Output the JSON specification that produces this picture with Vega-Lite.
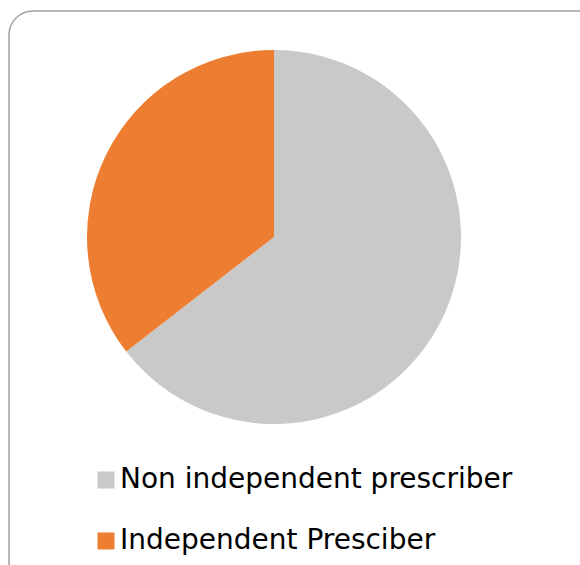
{
  "$schema": "https://vega.github.io/schema/vega-lite/v6.json",
  "autosize": {"type": "none"},
  "padding": {"left": 9, "top": 11, "right": -30, "bottom": -46},
  "width": 601,
  "height": 600,
  "background": "white",
  "config": {
    "style": {"view": {"stroke": "#a0a0a0", "strokeWidth": 1.5, "cornerRadius": 24, "fill": "white"}},
    "view": {"stroke": "#a0a0a0", "strokeWidth": 1.5, "cornerRadius": 24},
    "font": "DejaVu Sans"
  },
  "data": {
    "values": [
      {"category": "Non independent prescriber", "value": 64.5},
      {"category": "Independent Presciber", "value": 35.5}
    ]
  },
  "mark": {"type": "arc", "outerRadius": 187, "x": 265, "y": 226},
  "encoding": {
    "theta": {"field": "value", "type": "quantitative", "stack": true},
    "order": {"field": "value", "type": "quantitative", "sort": "descending"},
    "color": {
      "field": "category",
      "type": "nominal",
      "scale": {
        "domain": ["Non independent prescriber", "Independent Presciber"],
        "range": ["#c9c9c9", "#ed7d31"]
      },
      "legend": {
        "title": null,
        "orient": "none",
        "legendX": 83,
        "legendY": 455,
        "symbolType": "square",
        "symbolSize": 289,
        "symbolStrokeWidth": 0,
        "labelFont": "DejaVu Sans",
        "labelFontSize": 28,
        "labelColor": "#000000",
        "labelOffset": 0,
        "rowPadding": 33,
        "padding": 0,
        "labelLimit": 0
      }
    }
  }
}
